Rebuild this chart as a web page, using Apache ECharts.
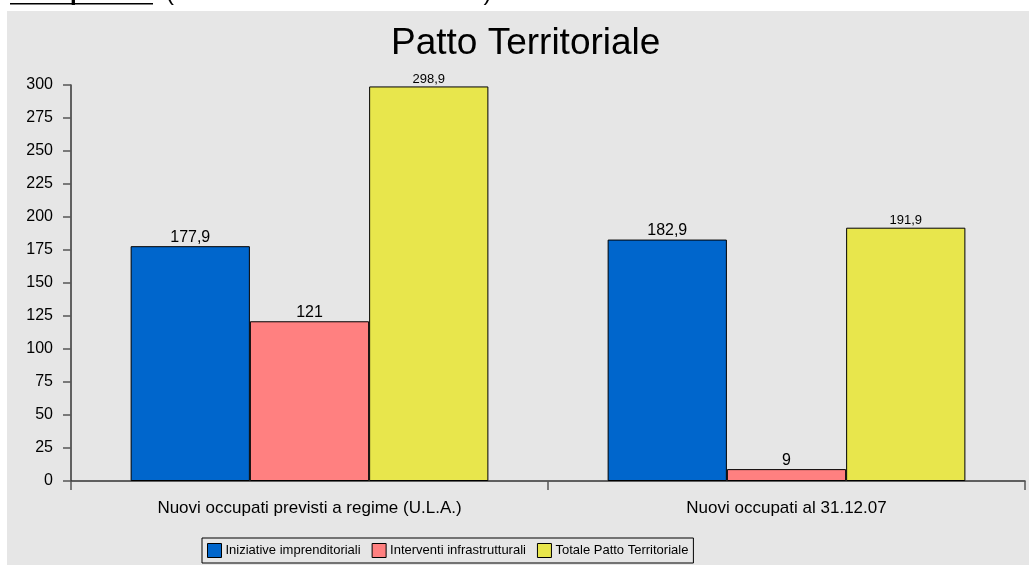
<!DOCTYPE html>
<html><head><meta charset="utf-8">
<script src="https://cdn.jsdelivr.net/npm/echarts@6/dist/echarts.min.js"></script>
<style>html,body{margin:0;padding:0;background:#fff}#c{width:1029px;height:565px}</style>
</head><body><div id="c"></div>
<script>
var categories = ['Nuovi occupati previsti a regime (U.L.A.)', 'Nuovi occupati al 31.12.07'];
var seriesNames = ['Iniziative imprenditoriali', 'Interventi infrastrutturali', 'Totale Patto Territoriale'];
var iniziative = [177.9, 182.9];
var interventi = [121, 9];
var totale = [298.9, 191.9];
var colors = ['#0066cc', '#ff8080', '#e8e64c'];
var labelSizes = [16, 16, 13];

var F = '"Liberation Sans", Arial, sans-serif';
var chart = echarts.init(document.getElementById('c'), null, {renderer: 'canvas'});
function fmt(p){ return String(p.value).replace('.', ','); }
var data = [iniziative, interventi, totale];
var series = data.map(function(d, i){
  return {
    name: seriesNames[i], type: 'bar', data: d,
    barGap: 0, barCategoryGap: '25%',
    itemStyle: {color: colors[i], borderColor: '#000', borderWidth: 1},
    label: {show: true, position: 'top', distance: 1, formatter: fmt,
      fontFamily: F, fontSize: labelSizes[i], color: '#000'}
  };
});
chart.setOption({
  animation: false,
  backgroundColor: '#fff',
  graphic: [
    {type: 'rect', shape: {x: 7, y: 11, width: 1022, height: 554}, style: {fill: '#e6e6e6'}, z: -10},
    {type: 'text', x: 10, y: -19, style: {text: '{b|Occupazione} (Unità Lavorative Anno – ULA)',
      font: '24px ' + F, fill: '#000', lineHeight: 24,
      rich: {b: {fontWeight: 'bold', fontSize: 24, fontFamily: F, lineHeight: 24}}}},
    {type: 'rect', shape: {x: 10, y: 3, width: 143, height: 1.6}, style: {fill: '#000'}}
  ],
  title: {text: 'Patto Territoriale', left: 391, top: 25, padding: 0,
    textStyle: {fontFamily: F, fontSize: 37, fontWeight: 'normal', color: '#000'}},
  legend: {
    left: 202, top: 538, itemWidth: 14, itemHeight: 14, itemGap: 11,
    padding: [5, 5, 5, 5], borderColor: '#000', borderWidth: 1,
    icon: 'rect',
    textStyle: {fontFamily: F, fontSize: 13, color: '#000', padding: [0, 0, 0, -1]},
    itemStyle: {borderColor: '#000', borderWidth: 1}
  },
  grid: {left: 71, right: 4, top: 85, bottom: 84, containLabel: false},
  xAxis: {type: 'category', data: categories,
    axisLine: {lineStyle: {color: '#333', width: 1.5}},
    axisTick: {show: true, length: 9, lineStyle: {color: '#555', width: 1.5}},
    axisLabel: {fontFamily: F, fontSize: 17, color: '#000', margin: 19}
  },
  yAxis: {type: 'value', min: 0, max: 300, interval: 25,
    splitLine: {show: false},
    axisLine: {show: true, lineStyle: {color: '#333', width: 1.5}},
    axisTick: {show: true, length: 8, lineStyle: {color: '#555', width: 1.5}},
    axisLabel: {fontFamily: F, fontSize: 16, color: '#000', margin: 18}
  },
  series: series
});
</script></body></html>
